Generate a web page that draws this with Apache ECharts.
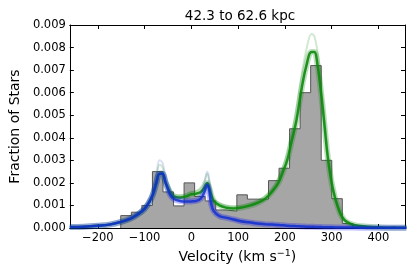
<!DOCTYPE html>
<html>
<head>
<meta charset="utf-8">
<script src="https://cdn.jsdelivr.net/npm/echarts@6/dist/echarts.min.js"></script>
<style>html,body{margin:0;padding:0;background:#fff}#c{width:415px;height:277px}</style>
</head>
<body>
<div id="c"></div>
<script>
// ---- data ----
const titleText = "42.3 to 62.6 kpc";
const xTicks = [-200, -100, 0, 100, 200, 300, 400];
const yTicks = [0, 0.001, 0.002, 0.003, 0.004, 0.005, 0.006, 0.007, 0.008, 0.009];
const binEdges = [-151,-128.4,-105.9,-83.3,-60.7,-38.1,-15.6,7,29.6,52.1,74.7,97.3,119.8,142.4,165,187.5,210.1,232.7,255.2,277.8,300.4,322.9,345.5,368,390.6,413.2,435.7];
const binHeights = [0.00055,0.0007,0.001,0.0025,0.0016,0.00098,0.002,0.0014,0.0012,0.0008,0.00075,0.00147,0.00128,0.00128,0.0021,0.00265,0.0044,0.006,0.0072,0.003,0.0013,0.0002,0.00004,0,0,0.00005];
const vGrid = [-260,-230,-200,-175,-150,-130,-115,-100,-90,-82,-75,-68,-62,-55,-46,-38,-25,-11,0,10,20,28,34,38,42,48,60,75,90,105,123,140,158,172,186,196,205,214,225,236,246,257,263,270,278,285,292,302,313,327,348,376,400,430,460];
const blueMid = [0.00004,0.00006,0.0001,0.00015,0.00027,0.00042,0.0006,0.00085,0.00115,0.0015,0.002,0.0024,0.0024,0.002,0.0015,0.0013,0.0012,0.00117,0.00118,0.0012,0.0013,0.0016,0.0019,0.0017,0.0011,0.00075,0.00053,0.00045,0.00038,0.0003,0.00025,0.0002,0.00017,0.00015,0.00013,0.00012,0.0001,0.00009,0.00008,0.00007,0.00006,0.00005,0.00005,0.00004,0.00004,0.00003,0.00003,0.00003,0.00002,0.00002,0.00002,0.00001,0.00001,0.00001,0.00001];
const blueHigh = [0.00005,0.00007,0.00012,0.00018,0.0003,0.00047,0.00068,0.00097,0.0013,0.0018,0.0024,0.003,0.0029,0.0023,0.0017,0.00145,0.00135,0.0013,0.0013,0.00135,0.0015,0.002,0.0025,0.0022,0.0014,0.00088,0.0006,0.0005,0.00042,0.00034,0.00028,0.00023,0.00019,0.00017,0.00015,0.00013,0.00011,0.0001,0.00009,0.00008,0.00007,0.00006,0.00006,0.00005,0.00005,0.00004,0.00004,0.00003,0.00003,0.00002,0.00002,0.00001,0.00001,0.00001,0.00001];
const greenMid = [0.00004,0.00006,0.0001,0.00015,0.00027,0.00042,0.0006,0.00085,0.00115,0.0015,0.002,0.0024,0.0024,0.002,0.0016,0.0014,0.00135,0.0014,0.0015,0.00152,0.0016,0.0018,0.002,0.0018,0.0015,0.0012,0.001,0.0009,0.00087,0.0009,0.00098,0.0011,0.0013,0.0016,0.002,0.0025,0.003,0.0038,0.0048,0.0062,0.0072,0.0078,0.0078,0.0072,0.0059,0.0045,0.0031,0.0018,0.00095,0.00036,0.00013,0.00006,0.00003,0.00001,0.00001];
const greenHigh = [0.00004,0.00006,0.00011,0.00016,0.00029,0.00045,0.00065,0.00092,0.00125,0.0016,0.0022,0.0028,0.0027,0.0022,0.0018,0.0015,0.00145,0.0015,0.0016,0.00165,0.0018,0.0021,0.0024,0.0021,0.0017,0.0013,0.0011,0.001,0.00095,0.00098,0.00107,0.0012,0.0014,0.0017,0.0022,0.0027,0.0033,0.0041,0.0053,0.0068,0.0079,0.0086,0.0085,0.0078,0.0064,0.0049,0.0034,0.002,0.00105,0.0004,0.00015,0.00007,0.00003,0.00001,0.00001];

// ---- build ----
const histPts = [[binEdges[0], 0]];
for (let i = 0; i < binHeights.length; i++) histPts.push([binEdges[i], binHeights[i]]);
histPts.push([binEdges[binEdges.length - 1], 0]);
const pts = arr => vGrid.map((v, i) => [v, arr[i]]);

const FONT = "DejaVu Sans";
const chart = echarts.init(document.getElementById('c'), null, {renderer: 'canvas'});
const frameLine = {show: true, onZero: false, lineStyle: {color: '#000', width: 1}};
const tick = {show: true, inside: true, length: 4, lineStyle: {color: '#000', width: 1}};
chart.setOption({
  animation: false,
  backgroundColor: '#fff',
  title: {text: titleText, left: 235, top: 4, textAlign: 'center',
    textStyle: {fontFamily: FONT, fontSize: 13.5, fontWeight: 'normal', color: '#000'}},
  grid: {left: 65, right: 10, top: 25, bottom: 49, containLabel: false},
  xAxis: [
    {type: 'value', min: -260, max: 457, position: 'bottom',
     axisLine: frameLine, axisTick: Object.assign({}, tick, {customValues: xTicks}),
     axisLabel: {customValues: xTicks, color: '#000', fontFamily: FONT, fontSize: 11.5, margin: 4,
       formatter: v => (v < 0 ? '\u2212' + Math.abs(v) : String(v))},
     splitLine: {show: false},
     name: 'Velocity (km s{sup|\u22121})', nameLocation: 'middle', nameGap: 19,
     nameTextStyle: {color: '#000', fontFamily: FONT, fontSize: 14,
       rich: {sup: {fontSize: 9.5, verticalAlign: 'top', padding: [0,0,6,0], fontFamily: FONT, color: '#000'}}}},
    {type: 'value', min: -260, max: 457, position: 'top',
     axisLine: frameLine, axisTick: Object.assign({}, tick, {customValues: xTicks}),
     axisLabel: {show: false}, splitLine: {show: false}}
  ],
  yAxis: [
    {type: 'value', min: 0, max: 0.009, interval: 0.001, position: 'left',
     axisLine: frameLine, axisTick: tick,
     axisLabel: {color: '#000', fontFamily: FONT, fontSize: 11.5, margin: 4, formatter: v => v.toFixed(3)},
     splitLine: {show: false},
     name: 'Fraction of Stars', nameLocation: 'middle', nameGap: 40,
     nameTextStyle: {color: '#000', fontFamily: FONT, fontSize: 14}},
    {type: 'value', min: 0, max: 0.009, interval: 0.001, position: 'right',
     axisLine: frameLine, axisTick: tick, axisLabel: {show: false}, splitLine: {show: false}}
  ],
  series: [
    {type: 'line', step: 'end', data: histPts, symbol: 'none', z: 1,
     lineStyle: {color: '#555', width: 1}, areaStyle: {color: '#a6a6a6', opacity: 1}},
    {type: 'line', data: pts(greenHigh), symbol: 'none', smooth: 0.4, z: 2,
     lineStyle: {color: '#008000', width: 2, opacity: 0.18}},
    {type: 'line', data: pts(greenMid), symbol: 'none', smooth: 0.4, z: 3,
     lineStyle: {color: '#008000', width: 6, opacity: 0.25}},
    {type: 'line', data: pts(greenMid), symbol: 'none', smooth: 0.4, z: 4,
     lineStyle: {color: '#0b8a0b', width: 2.5, opacity: 0.9}},
    {type: 'line', data: pts(blueHigh), symbol: 'none', smooth: 0.4, z: 5,
     lineStyle: {color: '#3050c0', width: 2, opacity: 0.18}},
    {type: 'line', data: pts(blueMid), symbol: 'none', smooth: 0.4, z: 6,
     lineStyle: {color: '#0000ff', width: 6, opacity: 0.25}},
    {type: 'line', data: pts(blueMid), symbol: 'none', smooth: 0.4, z: 7,
     lineStyle: {color: '#1030d0', width: 2.5, opacity: 0.85}}
  ]
});
</script>
</body>
</html>
